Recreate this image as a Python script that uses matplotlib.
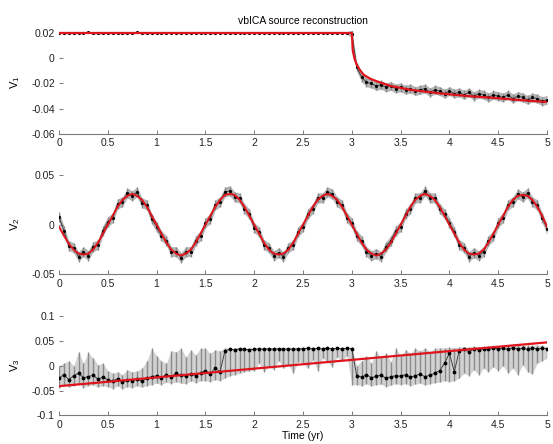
import matplotlib
matplotlib.use('Agg')
import matplotlib.pyplot as plt
import numpy as np

plt.rcParams['font.family'] = ['Liberation Sans', 'DejaVu Sans']
plt.rcParams['axes.unicode_minus'] = False

# time axis (yr), one sample every 0.05 yr
t = np.linspace(0, 5, 101)

# --- V1: step at t=3 then slow decay ---
v1_obs = [
    0.0203, 0.0198, 0.0201, 0.0197, 0.0202, 0.0199, 0.0204, 0.0198, 0.0200, 0.0196,
    0.0202, 0.0199, 0.0203, 0.0197, 0.0201, 0.0198, 0.0204, 0.0199, 0.0200, 0.0197,
    0.0202, 0.0198, 0.0201, 0.0203, 0.0197, 0.0200, 0.0202, 0.0198, 0.0201, 0.0199,
    0.0203, 0.0197, 0.0200, 0.0202, 0.0198, 0.0201, 0.0196, 0.0203, 0.0199, 0.0200,
    0.0202, 0.0198, 0.0201, 0.0197, 0.0203, 0.0199, 0.0200, 0.0202, 0.0198, 0.0201,
    0.0199, 0.0203, 0.0197, 0.0200, 0.0202, 0.0198, 0.0201, 0.0199, 0.0203, 0.0198,
    0.0195,
    -0.007, -0.015, -0.019, -0.020, -0.022, -0.021, -0.023, -0.022, -0.024, -0.023,
    -0.025, -0.024, -0.026, -0.025, -0.024, -0.027, -0.025, -0.026, -0.028, -0.026,
    -0.028, -0.027, -0.029, -0.027, -0.030, -0.028, -0.029, -0.031, -0.029, -0.030,
    -0.031, -0.029, -0.032, -0.030, -0.031, -0.033, -0.031, -0.032, -0.034, -0.033,
]
v1_err_before = 0.0006
v1_err_after = 0.0035
v1_model_t = [0, 3.0, 3.01, 3.03, 3.05, 3.08, 3.12, 3.19, 3.3, 3.4, 3.6, 3.9, 4.2, 4.42, 4.7, 5.0]
v1_model = [0.020, 0.020, 0.006, -0.001, -0.005, -0.009, -0.013, -0.0163, -0.0195, -0.022,
            -0.025, -0.0278, -0.030, -0.0312, -0.033, -0.0347]

# --- V2: annual signal ---
v2_model = [
    -0.002, -0.011, -0.019, -0.025, -0.029, -0.030, -0.029, -0.025, -0.018, -0.009,
    0.000, 0.009, 0.018, 0.025, 0.029, 0.031, 0.029, 0.025, 0.018, 0.009,
    0.000, -0.009, -0.018, -0.025, -0.029, -0.031, -0.029, -0.025, -0.018, -0.009,
    0.000, 0.009, 0.018, 0.025, 0.030, 0.031, 0.030, 0.025, 0.018, 0.009,
    0.000, -0.009, -0.018, -0.025, -0.029, -0.030, -0.029, -0.025, -0.018, -0.009,
    0.000, 0.009, 0.018, 0.025, 0.029, 0.031, 0.029, 0.025, 0.018, 0.009,
    0.000, -0.009, -0.018, -0.025, -0.029, -0.031, -0.029, -0.025, -0.018, -0.009,
    0.000, 0.009, 0.018, 0.025, 0.029, 0.031, 0.029, 0.025, 0.018, 0.009,
    0.000, -0.009, -0.018, -0.025, -0.029, -0.030, -0.029, -0.025, -0.018, -0.009,
    0.000, 0.009, 0.018, 0.025, 0.029, 0.030, 0.029, 0.025, 0.018, 0.009,
    -0.002,
]
v2_obs = [
    0.008, -0.006, -0.021, -0.023, -0.032, -0.027, -0.031, -0.022, -0.020, -0.006,
    0.003, 0.007, 0.021, 0.023, 0.032, 0.029, 0.033, 0.022, 0.020, 0.006,
    -0.002, -0.011, -0.016, -0.027, -0.027, -0.033, -0.027, -0.027, -0.016, -0.011,
    0.002, 0.006, 0.020, 0.023, 0.033, 0.034, 0.028, 0.027, 0.016, 0.011,
    -0.003, -0.007, -0.020, -0.023, -0.031, -0.028, -0.032, -0.023, -0.020, -0.007,
    -0.002, 0.011, 0.016, 0.027, 0.027, 0.033, 0.031, 0.023, 0.020, 0.007,
    0.002, -0.011, -0.016, -0.027, -0.031, -0.029, -0.032, -0.022, -0.016, -0.006,
    -0.002, 0.011, 0.016, 0.027, 0.027, 0.034, 0.027, 0.027, 0.016, 0.011,
    0.002, -0.007, -0.020, -0.023, -0.032, -0.028, -0.031, -0.027, -0.016, -0.011,
    0.002, 0.007, 0.020, 0.023, 0.031, 0.028, 0.032, 0.023, 0.020, 0.007,
    -0.004,
]
v2_err = 0.005

# --- V3: noisy source with linear trend ---
v3_obs = [
    -0.025, -0.018, -0.028, -0.020, -0.015, -0.024, -0.022, -0.019, -0.027, -0.023,
    -0.028, -0.031, -0.026, -0.033, -0.029, -0.030, -0.027, -0.031, -0.025, -0.022,
    -0.020, -0.024, -0.018, -0.022, -0.015, -0.019, -0.021, -0.016, -0.020, -0.014,
    -0.010, -0.016, -0.005, -0.012, 0.030, 0.033, 0.032, 0.034, 0.033, 0.032,
    0.033, 0.034, 0.033, 0.034, 0.033, 0.034, 0.033, 0.034, 0.033, 0.034,
    0.034, 0.035, 0.034, 0.035, 0.034, 0.035, 0.034, 0.035, 0.034, 0.035,
    0.034, -0.020, -0.023, -0.018, -0.024, -0.021, -0.019, -0.025, -0.022, -0.020,
    -0.021, -0.018, -0.023, -0.020, -0.017, -0.022, -0.019, -0.015, -0.010, 0.005,
    0.025, -0.012, 0.030, 0.033, 0.028, 0.034, 0.032, 0.034, 0.033, 0.035,
    0.034, 0.035, 0.033, 0.036, 0.034, 0.035, 0.033, 0.036, 0.034, 0.035,
    0.034,
]
v3_low = [
    -0.045, -0.038, -0.042, -0.040, -0.035, -0.044, -0.040, -0.038, -0.043, -0.040,
    -0.042, -0.046, -0.040, -0.047, -0.042, -0.044, -0.040, -0.043, -0.040, -0.038,
    -0.035, -0.038, -0.033, -0.036, -0.032, -0.035, -0.036, -0.030, -0.034, -0.030,
    -0.030, -0.032, -0.028, -0.030, -0.025, -0.020, -0.018, -0.015, -0.012, -0.010,
    -0.010, 0.005, -0.012, 0.000, -0.008, 0.010, -0.005, 0.002, -0.015, 0.008,
    0.005, -0.005, 0.012, -0.010, 0.015, 0.008, -0.002, 0.018, 0.010, 0.020,
    -0.038, -0.038, -0.040, -0.036, -0.041, -0.038, -0.037, -0.042, -0.039, -0.036,
    -0.038, -0.036, -0.040, -0.037, -0.035, -0.039, -0.036, -0.034, -0.033, -0.030,
    -0.032, -0.030, -0.025, -0.015, -0.020, -0.008, -0.018, -0.005, -0.012, -0.002,
    -0.010, 0.000, -0.015, -0.005, -0.018, 0.002, -0.012, -0.016, 0.005, 0.010,
    0.015,
]
v3_high = [
    0.000, 0.005, 0.010, 0.000, 0.028, 0.005, 0.027, 0.015, 0.002, 0.005,
    -0.010, -0.015, -0.012, -0.018, -0.008, -0.012, -0.010, -0.005, 0.010, 0.035,
    0.020, 0.010, 0.005, 0.030, 0.028, 0.035, 0.018, 0.032, 0.022, 0.035,
    0.035, 0.025, 0.032, 0.030, 0.036, 0.036, 0.035, 0.036, 0.036, 0.035,
    0.036, 0.036, 0.036, 0.036, 0.036, 0.036, 0.036, 0.036, 0.036, 0.036,
    0.037, 0.037, 0.037, 0.037, 0.037, 0.037, 0.037, 0.037, 0.037, 0.037,
    0.037, 0.000, 0.010, 0.020, 0.005, 0.030, 0.015, 0.025, 0.008, 0.035,
    0.020, 0.032, 0.025, 0.035, 0.030, 0.036, 0.028, 0.035, 0.036, 0.036,
    0.037, 0.036, 0.038, 0.038, 0.038, 0.039, 0.038, 0.039, 0.039, 0.039,
    0.040, 0.040, 0.040, 0.041, 0.041, 0.041, 0.041, 0.041, 0.041, 0.041,
    0.038,
]
v3_model_t = [0, 5]
v3_model = [-0.041, 0.047]

x_ticks = [0, 0.5, 1, 1.5, 2, 2.5, 3, 3.5, 4, 4.5, 5]
x_ticklabels = ['0', '0.5', '1', '1.5', '2', '2.5', '3', '3.5', '4', '4.5', '5']

fig = plt.figure(figsize=(5.53, 4.44), dpi=100)
left, width = 0.1067, 0.8825
ax1 = fig.add_axes([left, 0.6982, width, 0.2318])
ax2 = fig.add_axes([left, 0.3818, width, 0.2241])
ax3 = fig.add_axes([left, 0.0642, width, 0.2241])

gray = '#8a8a8a'
red = '#e0141c'


def noisy(ax, x, y, lo, hi, band='#b4b4b4', ms=2.5):
    # gray cloud of the observations with their error bars
    ax.fill_between(x, lo, hi, color=band, lw=0)
    ax.vlines(x, lo, hi, color=gray, lw=1.0)
    ax.plot(x, y, color='#404040', lw=0.7)
    ax.plot(x, y, '.', color='k', ms=ms)


# V1
v1_err = np.where(t < 3.0, v1_err_before, v1_err_after)
v1 = np.array(v1_obs)
noisy(ax1, t, v1, v1 - v1_err, v1 + v1_err)
ax1.plot(v1_model_t, v1_model, color=red, lw=1.6)
ax1.set_ylim(-0.06, 0.0215)
ax1.set_yticks([-0.06, -0.04, -0.02, 0, 0.02])
ax1.set_yticklabels(['-0.06', '-0.04', '-0.02', '0', '0.02'])
ax1.set_title('vbICA source reconstruction', fontsize=7.5, pad=5)

# V2
v2 = np.array(v2_obs)
noisy(ax2, t, v2, v2 - v2_err, v2 + v2_err)
ax2.plot(t, v2_model, color=red, lw=1.4)
ax2.set_ylim(-0.05, 0.05)
ax2.set_yticks([-0.05, 0, 0.05])
ax2.set_yticklabels(['-0.05', '0', '0.05'])

# V3
noisy(ax3, t, v3_obs, v3_low, v3_high, band='#d2d2d2', ms=3.5)
ax3.plot(v3_model_t, v3_model, color=red, lw=1.6)
ax3.set_ylim(-0.1, 0.1)
ax3.set_yticks([-0.1, -0.05, 0, 0.05, 0.1])
ax3.set_yticklabels(['-0.1', '-0.05', '0', '0.05', '0.1'])
ax3.set_xlabel('Time (yr)', fontsize=7.5, labelpad=1)

for ax, lab in zip([ax1, ax2, ax3], ['V$_{\\mathregular{1}}$', 'V$_{\\mathregular{2}}$', 'V$_{\\mathregular{3}}$']):
    ax.set_xlim(0, 5)
    ax.set_xticks(x_ticks)
    ax.set_xticklabels(x_ticklabels)
    for s in ['top', 'right', 'left']:
        ax.spines[s].set_visible(False)
    ax.spines['bottom'].set_color('#7a7a7a')
    ax.spines['bottom'].set_linewidth(0.8)
    ax.tick_params(direction='in', length=3, width=0.7, color='#7a7a7a', labelsize=7.5,
                   labelcolor='#222222', pad=3)
    ax.set_ylabel(lab, fontsize=8)
    ax.yaxis.set_label_coords(-0.076, 0.5)
    ax.patch.set_visible(False)

plt.savefig('out.png', dpi=100)
